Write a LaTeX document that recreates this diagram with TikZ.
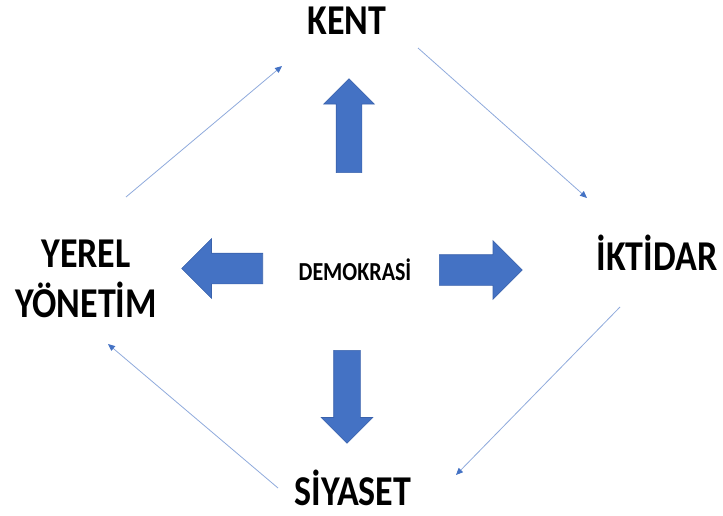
\documentclass[tikz,border=0pt]{standalone}
\usepackage{fontspec}
\setmainfont{Carlito}
\usetikzlibrary{shapes.arrows,arrows.meta}
\definecolor{ofblue}{HTML}{4472C4}
\definecolor{ofedge}{HTML}{3A62AC}
\definecolor{ofline}{HTML}{8FAADC}
% taller letters, as in the picture
\newcommand{\tallt}[1]{\scalebox{1}[1.18]{#1}}

\begin{document}
\begin{tikzpicture}[x=1pt,y=-1pt,
    lbl/.style={font=\fontsize{36}{50}\selectfont\bfseries,align=center,
      inner sep=0pt,anchor=base},
    blk/.style={single arrow,draw=ofedge,fill=ofblue,line width=0.6pt,
      text width=0pt,single arrow head indent=0pt,anchor=tail},
    arw/.style={draw=ofline,line width=0.8pt,
      -{Triangle[length=7pt,width=6pt,color=ofblue]}} ]
  \useasboundingbox (0,0) rectangle (723,516);
  \node[lbl] (Kent) at (347,35) {\tallt{KENT}};
  \node[lbl] (Iktidar) at (657,270) {\tallt{İKTİDAR}};
  \node[lbl] (Siyaset) at (353,505) {\tallt{SİYASET}};
  \node[lbl] (Yerel) at (86,317) {\tallt{YEREL}\\\tallt{YÖNETİM}};
  \node[lbl,font=\fontsize{22}{24}\selectfont\bfseries] (Demokrasi)
    at (355,280) {\tallt{DEMOKRASİ}};
  \node[blk,shape border rotate=90,inner sep=12.5pt,minimum height=94pt,
    single arrow head extend=12.5pt] (UpArw) at (349,173) {};
  \node[blk,shape border rotate=180,inner sep=15pt,minimum height=81pt,
    single arrow head extend=14.5pt] (LeftArw) at (263,268.5) {};
  \node[blk,inner sep=15pt,minimum height=83pt,
    single arrow head extend=14pt] (RightArw) at (439,270) {};
  \node[blk,shape border rotate=270,inner sep=13pt,minimum height=93pt,
    single arrow head extend=12.5pt] (DownArw) at (347,350) {};
  \coordinate (a1) at (126,197); \coordinate (b1) at (282,66);
  \coordinate (a2) at (418,48);  \coordinate (b2) at (587,198);
  \coordinate (a3) at (620,307); \coordinate (b3) at (456,475);
  \coordinate (a4) at (278,488); \coordinate (b4) at (108,344);
  \draw[arw] (a1) -- (b1);
  \draw[arw] (a2) -- (b2);
  \draw[arw] (a3) -- (b3);
  \draw[arw] (a4) -- (b4);
\end{tikzpicture}
\end{document}
